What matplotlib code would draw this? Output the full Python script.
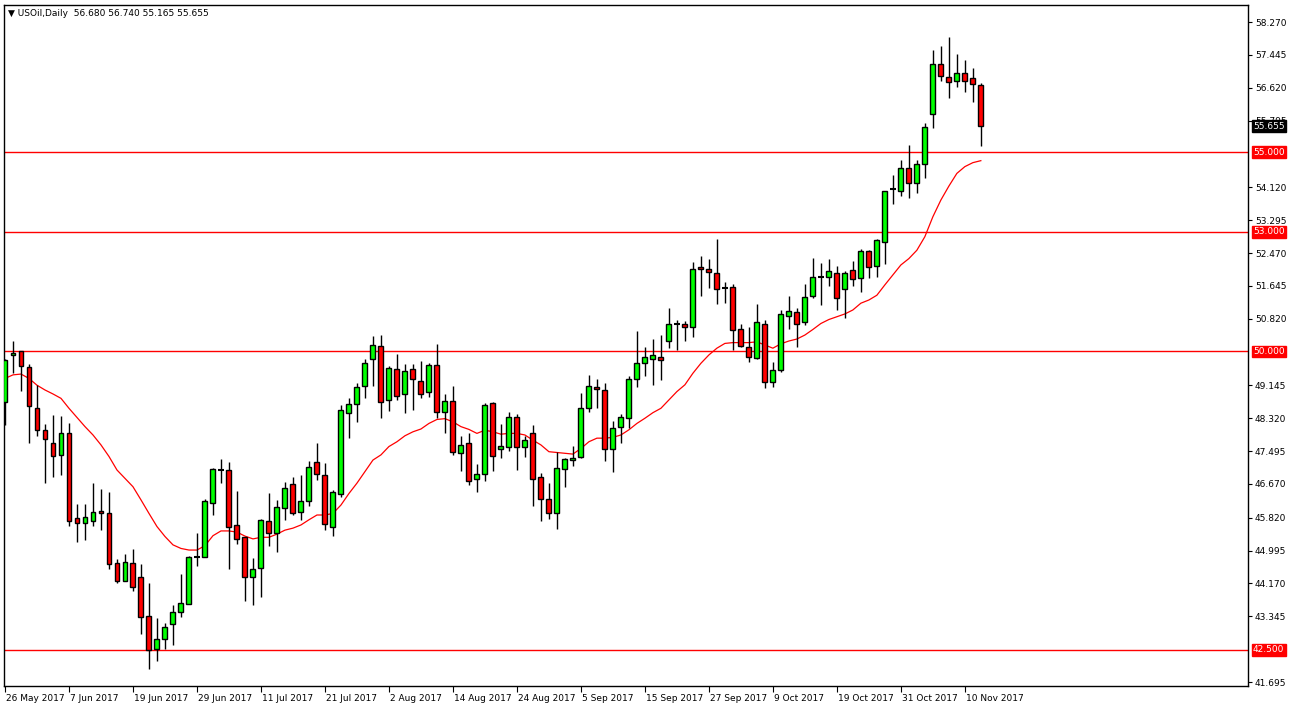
import matplotlib
matplotlib.use("Agg")
import matplotlib.pyplot as plt
import matplotlib.transforms as mtrans

opens = [48.74,49.90,50.02,49.60,48.59,48.02,47.69,47.39,47.94,45.81,45.68,45.75,45.99,45.93,44.68,44.24,44.68,44.33,43.36,42.52,
         42.77,43.15,43.46,43.65,44.84,44.84,46.19,47.02,47.03,45.63,45.33,44.33,44.55,45.73,45.43,46.06,46.66,45.97,46.23,47.21,
         46.89,45.58,46.43,48.46,48.67,49.13,49.82,50.13,48.79,49.55,48.92,49.55,49.26,48.97,49.66,48.48,48.75,47.44,47.69,46.79,
         46.91,48.71,47.56,47.60,48.34,47.59,47.94,46.85,46.28,45.93,47.04,47.27,47.35,48.59,49.11,49.04,47.54,48.09,48.32,49.30,
         49.70,49.82,49.87,50.25,50.69,50.70,50.62,52.11,52.06,51.98,51.58,51.61,50.55,50.12,49.84,50.70,49.24,49.52,50.90,50.98,
         50.73,51.40,51.88,51.88,51.98,51.56,52.04,51.85,52.52,52.15,52.75,54.09,54.03,54.60,54.24,54.70,55.95,57.23,56.88,56.80,
         56.98,56.86,56.68]
highs = [49.82,50.26,50.02,49.68,49.15,48.17,48.40,48.38,48.21,46.17,46.17,46.69,46.54,46.47,44.78,44.91,45.04,44.66,44.17,43.31,
         43.17,43.63,44.41,44.87,45.45,46.28,47.06,47.29,47.23,46.49,45.33,44.80,45.79,46.45,46.27,46.73,46.85,46.90,47.25,47.71,
         47.19,46.52,48.65,48.82,49.21,49.80,50.38,50.41,49.63,49.93,49.68,49.68,49.76,49.71,50.18,48.94,49.13,47.87,47.94,47.17,
         48.71,48.74,48.17,48.48,48.43,47.87,48.15,46.94,46.69,47.46,47.31,47.62,48.96,49.41,49.30,49.21,48.26,48.43,49.38,50.50,
         50.10,50.31,50.41,51.08,50.79,50.77,52.25,52.39,52.31,52.81,51.74,51.69,50.69,50.62,51.19,50.79,49.74,51.04,51.39,51.10,
         51.69,52.34,52.21,52.31,52.14,52.03,52.27,52.56,52.54,52.81,54.03,54.43,54.80,55.18,54.80,55.73,57.57,57.67,57.90,57.48,
         57.32,57.11,56.74]
lows = [48.15,49.45,49.01,47.71,47.87,46.70,46.84,46.90,45.62,45.20,45.25,45.61,45.51,44.53,44.19,44.24,43.99,42.90,42.02,42.23,
        42.52,42.62,43.32,43.65,44.62,44.84,45.89,46.70,44.53,45.16,43.74,43.62,43.82,45.10,44.97,45.76,45.89,45.76,46.12,46.77,
        45.51,45.36,46.35,47.83,48.23,48.84,49.13,48.33,48.51,48.78,48.46,48.53,48.84,48.86,48.32,47.96,47.39,47.00,46.64,46.46,
        46.75,47.00,47.33,47.51,47.02,47.34,46.12,45.75,45.79,45.54,46.60,47.13,47.33,48.48,48.59,47.25,46.98,47.71,48.07,49.11,
        49.38,49.16,49.28,50.09,50.04,50.26,50.37,51.39,51.60,51.19,51.22,50.03,50.10,49.74,49.80,49.07,49.10,49.49,50.56,50.12,
        50.66,51.35,51.16,51.64,51.04,50.85,51.64,51.50,51.85,51.87,52.19,53.70,53.91,53.86,53.97,54.36,55.62,56.80,56.37,56.65,
        56.52,56.27,55.165]
closes = [49.78,49.95,49.63,48.63,48.02,47.79,47.37,47.94,45.75,45.68,45.83,45.96,45.93,44.65,44.22,44.70,44.09,43.32,42.49,42.77,
          43.07,43.46,43.69,44.84,44.84,46.23,47.04,47.02,45.58,45.28,44.34,44.53,45.77,45.43,46.08,46.56,45.95,46.23,47.09,46.91,
          45.66,46.46,48.53,48.69,49.11,49.70,50.16,48.74,49.57,48.89,49.50,49.30,48.93,49.67,48.47,48.75,47.48,47.66,46.75,46.91,
          48.65,47.38,47.62,48.34,47.59,47.77,46.79,46.28,45.93,47.06,47.29,47.33,48.59,49.13,49.06,47.54,48.07,48.34,49.30,49.70,
          49.85,49.90,49.79,50.70,50.69,50.60,52.08,52.06,52.00,51.57,51.58,50.54,50.14,49.87,50.73,49.24,49.52,50.93,51.01,50.70,
          51.36,51.87,51.90,52.02,51.35,51.98,51.83,52.52,52.13,52.80,54.03,54.09,54.60,54.24,54.70,55.63,57.21,56.91,56.77,56.98,
          56.80,56.71,55.655]
ma = [49.32,49.41,49.43,49.32,49.15,49.03,48.93,48.82,48.57,48.34,48.11,47.90,47.65,47.36,47.02,46.81,46.60,46.27,45.93,45.60,
      45.35,45.14,45.05,45.01,45.01,45.12,45.37,45.49,45.49,45.46,45.36,45.29,45.33,45.33,45.41,45.51,45.56,45.64,45.77,45.89,
      45.89,45.93,46.14,46.43,46.69,46.98,47.27,47.40,47.61,47.73,47.88,47.98,48.05,48.19,48.29,48.31,48.23,48.11,48.04,47.94,
      48.02,47.98,47.92,47.94,47.94,47.90,47.77,47.65,47.48,47.46,47.44,47.42,47.56,47.73,47.82,47.82,47.84,47.90,48.03,48.19,
      48.32,48.46,48.57,48.78,48.99,49.16,49.45,49.70,49.91,50.08,50.20,50.22,50.22,50.22,50.24,50.16,50.08,50.19,50.26,50.31,
      50.41,50.55,50.70,50.80,50.87,50.94,51.04,51.21,51.29,51.41,51.67,51.92,52.17,52.33,52.54,52.88,53.38,53.80,54.15,54.47,
      54.64,54.74,54.79]
date_labels = ["26 May 2017","7 Jun 2017","19 Jun 2017","29 Jun 2017","11 Jul 2017","21 Jul 2017","2 Aug 2017",
               "14 Aug 2017","24 Aug 2017","5 Sep 2017","15 Sep 2017","27 Sep 2017","9 Oct 2017","19 Oct 2017",
               "31 Oct 2017","10 Nov 2017"]
date_idx = [0,8,16,24,32,40,48,56,64,72,80,88,96,104,112,120]
price_ticks = [58.270,57.445,56.620,55.795,54.120,53.295,52.470,51.645,50.820,49.145,48.320,47.495,46.670,45.820,
               44.995,44.170,43.345,41.695]
levels = [55.0,53.0,50.0,42.5]
header = "USOil,Daily  56.680 56.740 55.165 55.655"

W, H = 1292, 708
fig = plt.figure(figsize=(W/100, H/100), dpi=100)
ax = fig.add_axes([4/W, (H-686)/H, (1248-4)/W, (686-5)/H])
ax.set_xlim(-0.125, 155.4)
ax.set_ylim(41.595, 58.70)

for lv in levels:
    ax.axhline(lv, color='#ff0000', lw=1, zorder=1)
ax.plot(range(len(ma)), ma, color='#ff0000', lw=0.9, zorder=2)

for i in range(len(opens)):
    o, h, l, c = opens[i], highs[i], lows[i], closes[i]
    ax.vlines(i, l, h, color='black', lw=1, zorder=3)
    if abs(c - o) < 0.03:
        ax.hlines(o, i-0.35, i+0.35, color='black', lw=1.5, zorder=4)
    else:
        col = '#00ff00' if c > o else '#ff0000'
        ax.bar(i, abs(c-o), bottom=min(o, c), width=0.62, color=col, edgecolor='black', lw=1, zorder=4)

ax.yaxis.tick_right()
ax.set_yticks(price_ticks)
ax.set_yticklabels([f"{p:.3f}" for p in price_ticks])
ax.tick_params(axis='y', labelsize=6.5, length=3, pad=2)
ax.set_xticks(date_idx)
ax.set_xticklabels([])
ax.tick_params(axis='x', length=4, direction='out')
tr = mtrans.blended_transform_factory(ax.transData, ax.transAxes)
for idx, lab in zip(date_idx, date_labels):
    ax.text(idx+0.1, -0.012, lab, transform=tr, ha='left', va='top', fontsize=6.5)

for lv in levels:
    ax.text(1.004, lv, f"{lv:.3f}", transform=mtrans.blended_transform_factory(ax.transAxes, ax.transData),
            ha='left', va='center', fontsize=6.5, color='white',
            bbox=dict(boxstyle='square,pad=0.15', fc='#ff0000', ec='#ff0000'))
ax.text(1.004, closes[-1], f"{closes[-1]:.3f}", transform=mtrans.blended_transform_factory(ax.transAxes, ax.transData),
        ha='left', va='center', fontsize=6.5, color='white',
        bbox=dict(boxstyle='square,pad=0.15', fc='black', ec='black'))

fig.text(8/W, 1-13/H, "\u25bc " + header, fontsize=6.5, va='center', ha='left')
for s in ax.spines.values():
    s.set_linewidth(1)
fig.savefig("out.png", dpi=100)
